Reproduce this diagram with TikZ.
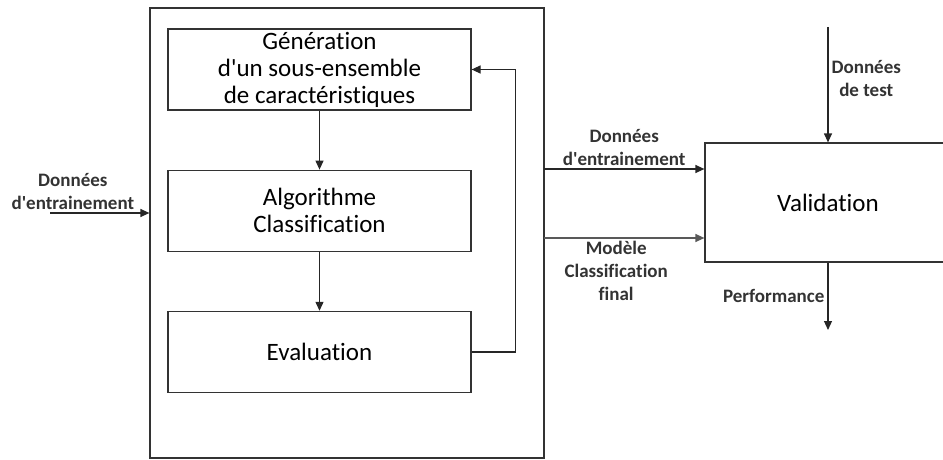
\documentclass[tikz,border=0pt]{standalone}
\usepackage{fontspec}
\setmainfont{Carlito}[Ligatures=NoCommon]
\usetikzlibrary{arrows.meta,positioning}
\newcommand{\apos}{\textquotesingle}

\begin{document}
\begin{tikzpicture}[
    x=1pt, y=-1pt,
    node distance=59pt,
    frame/.style={draw=black!80, line width=1.2pt, inner sep=0pt},
    box/.style={frame, minimum width=303pt, minimum height=81pt, align=center, text=black, font=\fontsize{25}{27}\selectfont},
    lbl/.style={font=\bfseries\fontsize{19}{23}\selectfont, align=center, text=black!80, inner sep=3pt},
    link/.style={-{Triangle[length=9pt,width=8pt]}, line width=1.2pt, draw=black!85}
]
\useasboundingbox (0,0) rectangle (943,460);

\node[frame, minimum width=394pt, minimum height=450pt] (selection) at (347,233) {};

\node[box] (gen) at (319.5,69.5) {Génération\\d\apos un sous-ensemble\\de caractéristiques};
\node[box, below=of gen] (algo) {Algorithme\\Classification};
\node[box, below=of algo] (eval) {Evaluation};

\node[box, minimum width=246pt, minimum height=119pt] (valid) at (828,202.5) {Validation};

\coordinate (in) at (50,213);
\coordinate (trainout) at (544,169);
\coordinate (modelout) at (544,238);
\coordinate (testin) at (828,27);
\coordinate (perfout) at (828,330);

% Connections
\draw[link] (in) -- node[lbl, pos=0.23, above] {Données\\d\apos entrainement} (in -| selection.west);
\draw[link] (gen) -- (algo);
\draw[link] (algo) -- (eval);
\draw[link] (eval.east) -- ++(44,0) |- (gen.east);
\draw[link] (trainout) -- node[lbl, above] {Données\\d\apos entrainement} (trainout -| valid.west);
\draw[link, draw=black!65] (modelout) -- node[lbl, pos=0.45, below] {Modèle\\Classification\\final} (modelout -| valid.west);
\draw[link] (testin) -- node[lbl, pos=0.45, right] {Données\\de test} (valid.north);
\draw[link] (valid.south) -- node[lbl, left] {Performance} (perfout);

\end{tikzpicture}
\end{document}
